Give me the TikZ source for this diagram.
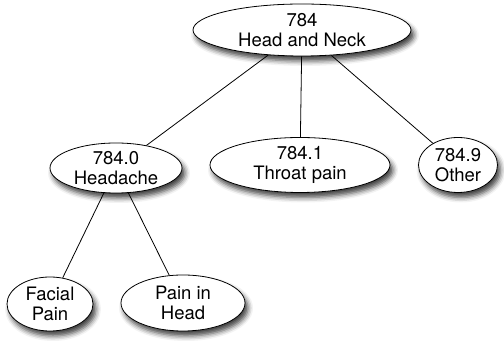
\documentclass[tikz,border=0pt]{standalone}
\usepackage{fontspec}
\setmainfont{TeX Gyre Heros}
\usepackage{tikz}
\usetikzlibrary{shapes.geometric}
\usetikzlibrary{shadows.blur}

\tikzset{
  code/.style={ellipse, draw, thick, fill=white, inner sep=0pt, align=center,
    font=\fontsize{18.5}{20}\selectfont,
    blur shadow={shadow xshift=3pt, shadow yshift=-5pt, shadow blur radius=5pt, shadow opacity=75}},
  link/.style={thick}
}

\begin{document}
\begin{tikzpicture}[x=1pt,y=1pt]
			\useasboundingbox (0,0) rectangle (504,345);
			
			% draw nodes
			\node[code, minimum width=218, minimum height=52] (neck) at (302,315) {784\\Head and Neck};
			\node[code, minimum width=132, minimum height=50] (headache) at (116,177) {784.0\\Headache};
			\node[code, minimum width=180, minimum height=55] (throat) at (300,180) {784.1\\Throat pain};
			\node[code, minimum width=79, minimum height=55] (other) at (458,180) {784.9\\Other};
			\node[code, minimum width=86, minimum height=54] (facial) at (50,41) {Facial\\Pain};
			\node[code, minimum width=124, minimum height=56] (painhead) at (183,42) {Pain in\\Head};
			
			% draw lines
			\foreach \kid in {headache,throat,other}
			\draw[link] (neck) -- (\kid);
			\foreach \kid in {facial,painhead}
			\draw[link] (headache) -- (\kid);
\end{tikzpicture}
\end{document}
